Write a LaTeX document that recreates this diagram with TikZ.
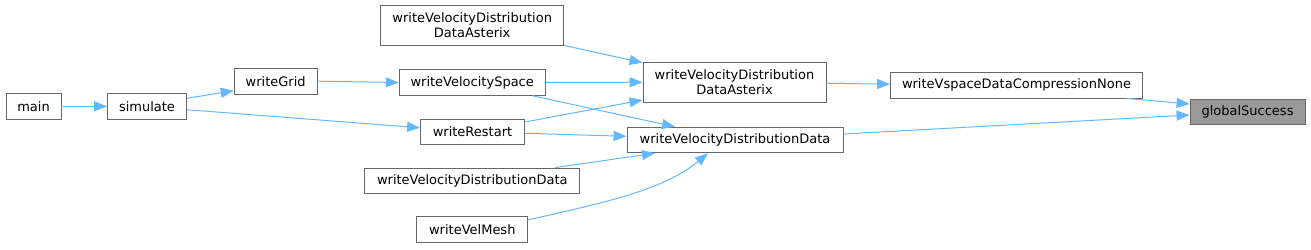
\documentclass[tikz,border=0pt]{standalone}
\usepackage{fontspec}
\usetikzlibrary{
  arrows.meta,
  calc,
  positioning
}
\newfontfamily\graphfamily{DejaVu Sans}
\definecolor{EdgeBlue}{HTML}{63B8FF}
\definecolor{BoxBorder}{HTML}{666666}
\definecolor{FocusFill}{HTML}{999999}
\newcommand{\graphfont}{\graphfamily\fontsize{13}{15}\selectfont}
\tikzset{
  % Global typography and reusable box geometry.
  every node/.style={font=\graphfont},
  func box/.style={
    draw=BoxBorder,
    line width=0.9pt,
    fill=white,
    inner sep=0pt,
    minimum height=25.5pt,
    align=center,
    text=black
  },
  double box/.style={
    func box,
    minimum height=40pt
  },
  focus box/.style={
    func box,
    fill=FocusFill
  },
  call/.style={
    -{Triangle[length=13pt,width=10pt]},
    draw=EdgeBlue,
    line width=1pt
  }
}

\begin{document}
\begin{tikzpicture}[x=1pt,y=-1pt]
\useasboundingbox (0,0) rectangle (1311,249);

% ---------------------------------------------------------------------------
% Left side: entry point and top-level writers
% ---------------------------------------------------------------------------
\node[func box, minimum width=55pt] (main) at (33.5,106.3) {main};
\node[func box, minimum width=79pt] (simulate) at (147,106.3) {simulate};
\node[func box, minimum width=83pt] (writeGrid) at (275.7,81.2) {writeGrid};

% Column of callers in front of the asterix / data writers
\node[double box, minimum width=183pt] (asterixTop) at (472.2,25)
  {writeVelocityDistribution\\DataAsterix};
\node[func box, minimum width=146pt] (velSpace) at (472.2,82.5)
  {writeVelocitySpace};
\node[func box, minimum width=104pt] (restart) at (472.5,131.8)
  {writeRestart};
\node[func box, minimum width=215pt] (vddLeft) at (472.3,180.8)
  {writeVelocityDistributionData};
\node[func box, minimum width=111pt] (velMesh) at (472.3,229.5)
  {writeVelMesh};

% ---------------------------------------------------------------------------
% Right side: data writers and the checked function
% ---------------------------------------------------------------------------
\node[double box, minimum width=183pt] (asterixMid) at (734.5,82.2)
  {writeVelocityDistribution\\DataAsterix};
\node[func box, minimum width=216pt] (vddMid) at (735,140)
  {writeVelocityDistributionData};
\node[func box, minimum width=252pt] (vspaceNone) at (1016.5,85.2)
  {writeVspaceDataCompressionNone};
\node[focus box, minimum width=115pt] (globalSuccess) at (1247.5,111.7)
  {globalSuccess};

% ---------------------------------------------------------------------------
% Calls
% ---------------------------------------------------------------------------
\draw[call] (main.east) -- (simulate.west);
\draw[call] ([yshift=8]simulate.east) -- ([yshift=-9.5]writeGrid.west);
\draw[call] ([yshift=-3.4]simulate.east) -- ([yshift=4]restart.west);
\draw[call] (writeGrid.east) -- (velSpace.west);

\draw[call] (asterixTop.south east) -- ([yshift=-1]asterixMid.north west);
\draw[call] (velSpace.east) -- (asterixMid.west);
\draw[call] ([xshift=60]velSpace.south) -- ([xshift=-60]vddMid.north);
\draw[call] ([yshift=9.8]restart.east) -- ([yshift=-17.8]asterixMid.west);
\draw[call] ([yshift=-1.5]restart.east) -- ([yshift=3.7]vddMid.west);
\draw[call] ([xshift=83]vddLeft.north) -- ([xshift=-80]vddMid.south);
\draw[call] ([yshift=9.5]velMesh.east)
  .. controls ($(velMesh.east)+(60,-24)$) and ($(vddMid.south)+(-75,40)$)
  .. ([xshift=-27]vddMid.south);

\draw[call] ([yshift=-1]asterixMid.east) -- ([yshift=1]vspaceNone.west);
\draw[call] ([xshift=110]vspaceNone.south) -- ([yshift=7.7]globalSuccess.west);
\draw[call] ([yshift=6]vddMid.east) -- ([yshift=-3.3]globalSuccess.west);

\end{tikzpicture}
\end{document}
